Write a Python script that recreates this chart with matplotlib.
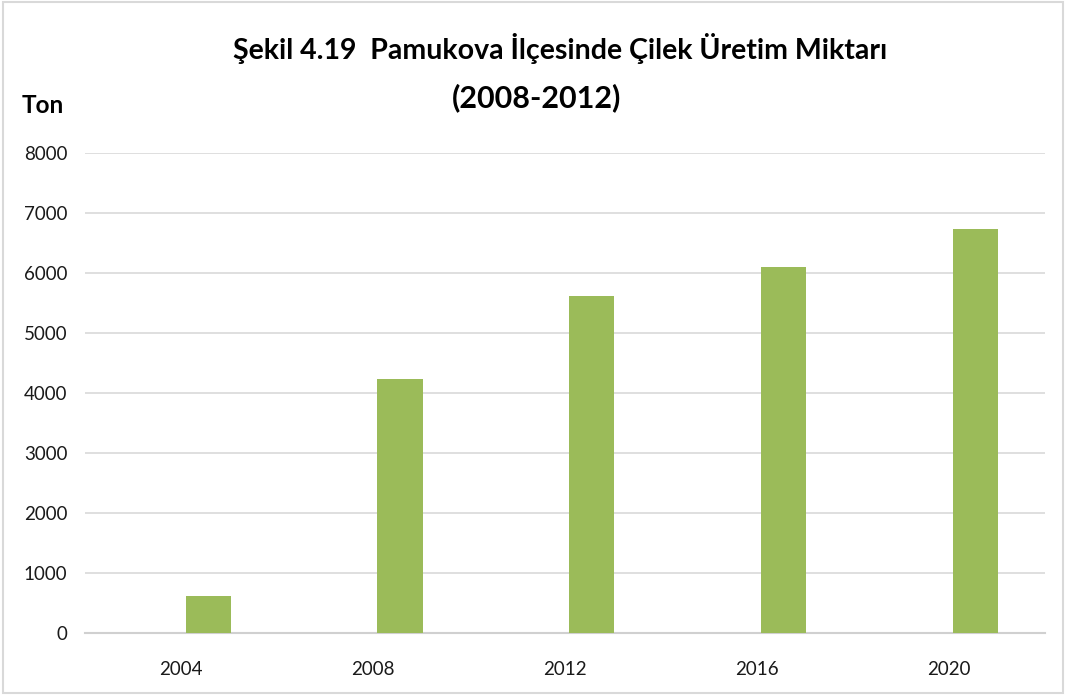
import matplotlib
matplotlib.use("Agg")
import matplotlib.pyplot as plt
from matplotlib.patches import Rectangle

# Pamukova çilek üretimi (ton)
years = ["2004", "2008", "2012", "2016", "2020"]
production = [620, 4230, 5620, 6100, 6730]
y_ticks = [0, 1000, 2000, 3000, 4000, 5000, 6000, 7000, 8000]

plt.rcParams["font.family"] = ["Lato", "DejaVu Sans"]

fig = plt.figure(figsize=(10.66, 6.95), dpi=100)
ax = fig.add_axes([0.080, 0.089, 0.900, 0.691])

x = list(range(len(years)))
# sütunlar kategori ortasının biraz sağında duruyor
bar_shift = 0.14
ax.bar([i + bar_shift for i in x], production, width=0.235, color="#9bbb59", zorder=3)

ax.set_xlim(-0.5, len(years) - 0.5)
ax.set_ylim(0, 8000)
ax.set_yticks(y_ticks)
ax.set_yticklabels([str(v) for v in y_ticks])
ax.set_xticks(x)
ax.set_xticklabels(years)

ax.grid(axis="y", color="#d9d9d9", linewidth=1.2, zorder=0)
for side in ["top", "right", "left"]:
    ax.spines[side].set_visible(False)
ax.spines["bottom"].set_color("#d0d0d0")
ax.spines["bottom"].set_linewidth(1.5)
ax.tick_params(axis="both", length=0, labelsize=13.5, colors="#1a1a1a")
ax.tick_params(axis="y", pad=13)
ax.tick_params(axis="x", pad=20)

fig.text(0.525, 0.93, "Şekil 4.19  Pamukova İlçesinde Çilek Üretim Miktarı",
         ha="center", va="center", fontsize=20.5, fontweight="bold")
fig.text(0.503, 0.86, "(2008-2012)", ha="center", va="center",
         fontsize=22, fontweight="bold")
fig.text(0.020, 0.848, "Ton", ha="left", va="center", fontsize=17.5,
         fontweight="bold")

# ince çerçeve
fig.patches.append(Rectangle((0.003, 0.003), 0.994, 0.994, transform=fig.transFigure,
                             fill=False, edgecolor="#d9d9d9", linewidth=1.5))

fig.savefig("out.png", dpi=100)
